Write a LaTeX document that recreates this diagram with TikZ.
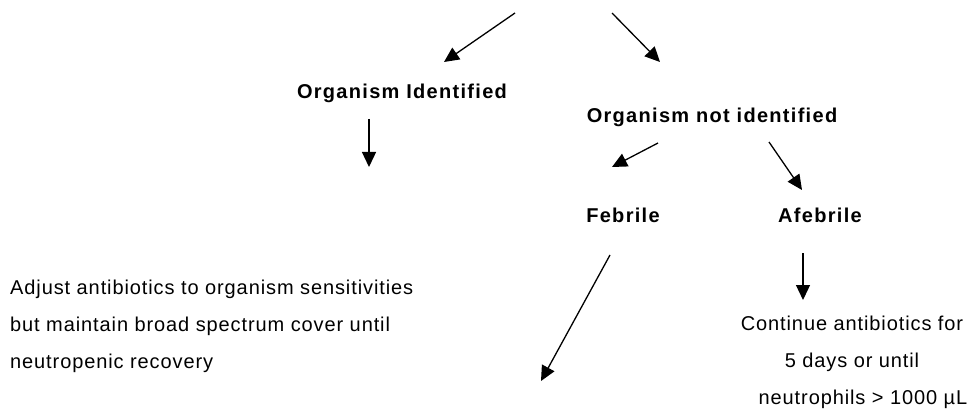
\documentclass[tikz,border=0pt]{standalone}
\usepackage{fontspec}
\setmainfont[LetterSpace=4.5,BoldFeatures={LetterSpace=6.5}]{Liberation Sans}
\usetikzlibrary{arrows.meta}

\begin{document}
\begin{tikzpicture}[x=1pt,y=-1pt,
  lbl/.style={inner sep=0pt,font=\fontsize{20}{37}\selectfont\bfseries},
  txt/.style={inner sep=0pt,font=\fontsize{20}{37}\selectfont},
  arr/.style={-{Triangle[length=15pt,width=14pt]},line width=1.3pt}]
  \useasboundingbox (0,0) rectangle (976,414);
  \path (402,93) node[lbl] (ident) {Organism Identified}
  (712,117) node[lbl] (notid) {Organism not identified}
  (623,215) node[lbl] (feb) {Febrile} (820,215) node[lbl] (afeb) {Afebrile};
  \node[txt,anchor=west,align=left] (adjust) at (10,326)
    {Adjust antibiotics to organism sensitivities\\but maintain broad spectrum cover until\\neutropenic recovery};
  \node[txt,align=center] (cont) at (852,362)
    {Continue antibiotics for\\5 days or until\\\hspace*{22pt}neutrophils > 1000 µL};
  \coordinate (t1) at (515,13); \coordinate (t2) at (612,13);
  \coordinate (d1) at (369,167); \coordinate (d2) at (541,381);
  \draw[arr] (t1) -- (444,62);
  \draw[arr] (t2) -- (660,62);
  \draw[arr] (369,119) -- (d1);
  \draw[arr] (658,143) -- (612,167);
  \draw[arr] (769,142) -- (802,190);
  \draw[arr] (610,255) -- (d2);
  \draw[arr] (803,253) -- (803,300);
\end{tikzpicture}
\end{document}
